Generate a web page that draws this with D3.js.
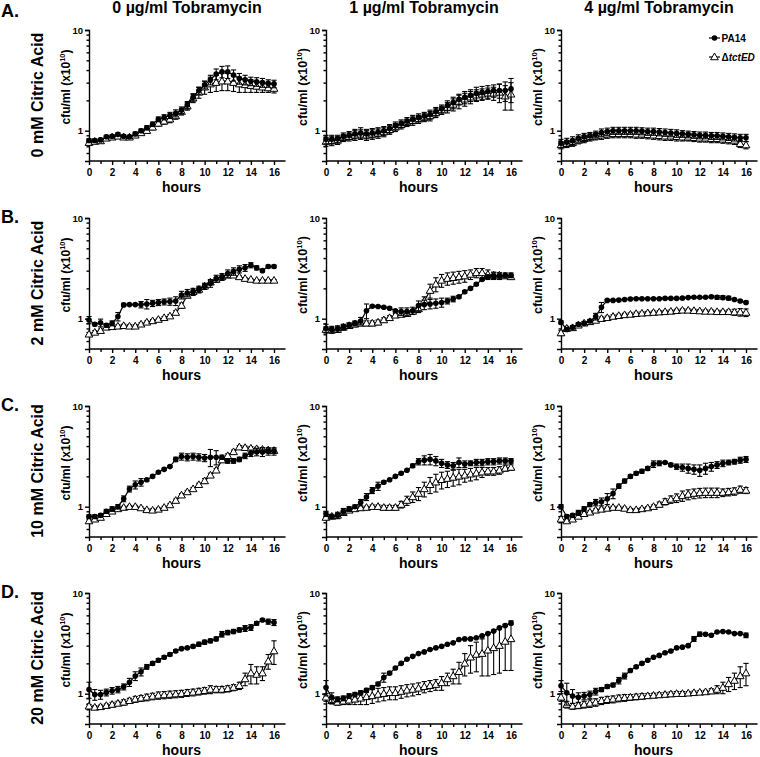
<!DOCTYPE html>
<html><head><meta charset="utf-8">
<script src="https://cdn.jsdelivr.net/npm/d3@7"></script>
<style>
body{margin:0;background:#fff}
svg{display:block}
text{font-family:"Liberation Sans",Arial,Helvetica,sans-serif;font-weight:bold;fill:#000}
</style>
</head><body>
<svg id="chart" width="760" height="757"></svg>
<script>
// ---------- categories / labels ----------
const hours = [0,0.5,1,1.5,2,2.5,3,3.5,4,4.5,5,5.5,6,6.5,7,7.5,8,8.5,9,9.5,10,10.5,11,11.5,12,12.5,13,13.5,14,14.5,15,15.5,16];
const tobramycinLabels = ["0 µg/ml Tobramycin","1 µg/ml Tobramycin","4 µg/ml Tobramycin"];
const citricLabels = ["0 mM Citric Acid","2 mM Citric Acid","10 mM Citric Acid","20 mM Citric Acid"];
const panelLetters = ["A.","B.","C.","D."];
const seriesNames = ["PA14","tctED"];
const xTickLabels = [0,2,4,6,8,10,12,14,16];
const xMinorTicks = [1,3,5,7,9,11,13,15];
const yTickLabels = [1,10];
const yMinorTicks = [0.6,0.7,0.8,0.9,2,3,4,5,6,7,8,9];

// ---------- row A : 0 mM citric acid ----------
const pa14_A1 = [0.80,0.80,0.81,0.87,0.88,0.92,0.88,0.87,0.93,1.00,1.07,1.16,1.30,1.36,1.42,1.49,1.60,1.80,2.15,2.50,2.85,3.20,3.65,3.85,3.85,3.56,3.30,3.20,3.10,3.06,3.00,2.95,2.92];
const pa14err_A1 = [0.03,0.03,0.03,0.03,0.03,0.03,0.03,0.03,0.04,0.04,0.05,0.06,0.07,0.08,0.10,0.12,0.12,0.15,0.18,0.20,0.25,0.35,0.45,0.50,0.55,0.45,0.40,0.35,0.30,0.30,0.30,0.25,0.25];
const tct_A1 = [0.76,0.78,0.79,0.84,0.86,0.88,0.86,0.86,0.90,0.95,1.00,1.08,1.18,1.24,1.30,1.40,1.55,1.75,2.10,2.40,2.70,2.90,3.00,3.10,3.10,3.00,2.90,2.85,2.80,2.75,2.70,2.65,2.62];
const tcterr_A1 = [0.03,0.03,0.03,0.03,0.03,0.03,0.03,0.03,0.04,0.04,0.05,0.06,0.07,0.08,0.10,0.10,0.12,0.15,0.20,0.30,0.40,0.50,0.55,0.60,0.60,0.55,0.50,0.45,0.40,0.35,0.30,0.25,0.25];

const pa14_A2 = [0.82,0.82,0.83,0.88,0.90,0.93,0.95,0.93,0.95,0.97,1.00,1.05,1.12,1.18,1.25,1.30,1.35,1.40,1.45,1.55,1.65,1.78,1.90,2.05,2.15,2.25,2.35,2.40,2.45,2.50,2.50,2.50,2.60];
const pa14err_A2 = [0.08,0.08,0.07,0.07,0.08,0.10,0.12,0.10,0.10,0.10,0.10,0.10,0.10,0.10,0.10,0.12,0.12,0.12,0.15,0.15,0.15,0.20,0.25,0.25,0.30,0.30,0.35,0.35,0.35,0.35,0.40,0.55,0.70];
const tct_A2 = [0.78,0.79,0.80,0.85,0.87,0.90,0.92,0.90,0.92,0.94,0.97,1.02,1.08,1.14,1.20,1.25,1.30,1.35,1.40,1.50,1.60,1.70,1.82,1.95,2.05,2.15,2.25,2.30,2.35,2.35,2.40,2.20,2.30];
const tcterr_A2 = [0.08,0.08,0.07,0.07,0.08,0.10,0.10,0.10,0.10,0.10,0.10,0.10,0.10,0.10,0.10,0.12,0.12,0.12,0.15,0.15,0.15,0.20,0.25,0.30,0.30,0.30,0.30,0.30,0.30,0.35,0.50,0.60,0.70];

const pa14_A3 = [0.75,0.77,0.80,0.84,0.87,0.89,0.92,0.96,0.98,1.00,1.00,1.00,1.00,1.00,0.99,0.98,0.98,0.97,0.96,0.95,0.94,0.93,0.92,0.91,0.90,0.90,0.89,0.89,0.88,0.87,0.86,0.85,0.85];
const pa14err_A3 = [0.07,0.07,0.07,0.07,0.07,0.07,0.07,0.08,0.08,0.08,0.08,0.08,0.08,0.08,0.08,0.08,0.08,0.08,0.08,0.08,0.08,0.07,0.07,0.07,0.07,0.07,0.07,0.07,0.07,0.07,0.07,0.07,0.07];
const tct_A3 = [0.72,0.74,0.76,0.80,0.83,0.86,0.88,0.90,0.92,0.93,0.93,0.93,0.93,0.92,0.92,0.91,0.90,0.89,0.88,0.88,0.87,0.86,0.86,0.85,0.84,0.84,0.83,0.83,0.82,0.81,0.80,0.74,0.72];
const tcterr_A3 = [0.06,0.06,0.06,0.06,0.07,0.07,0.07,0.08,0.08,0.08,0.08,0.08,0.08,0.08,0.08,0.08,0.08,0.08,0.08,0.08,0.08,0.07,0.07,0.07,0.07,0.07,0.07,0.07,0.07,0.07,0.07,0.06,0.06];

// ---------- row B : 2 mM citric acid ----------
const pa14_B1 = [0.97,0.88,0.91,0.86,0.90,1.05,1.37,1.38,1.38,1.38,1.40,1.42,1.45,1.47,1.48,1.50,1.72,1.80,1.85,1.95,2.10,2.25,2.50,2.60,2.80,2.95,3.10,3.20,3.40,3.20,3.00,3.30,3.30];
const pa14err_B1 = [0.08,0.03,0.08,0.03,0.05,0.10,0.05,0.03,0.03,0.10,0.15,0.10,0.10,0.10,0.12,0.15,0.15,0.15,0.15,0.15,0.15,0.20,0.20,0.20,0.25,0.25,0.25,0.25,0.20,0.15,0.10,0.10,0.10];
const tct_B1 = [0.70,0.73,0.76,0.82,0.83,0.84,0.85,0.84,0.84,0.88,0.92,0.95,0.98,1.02,1.06,1.15,1.35,1.70,1.85,1.95,2.10,2.30,2.45,2.60,2.70,2.70,2.60,2.50,2.45,2.40,2.40,2.40,2.40];
const tcterr_B1 = [0.03,0.03,0.03,0.03,0.03,0.03,0.03,0.03,0.03,0.03,0.03,0.03,0.03,0.03,0.04,0.05,0.08,0.08,0.08,0.10,0.10,0.10,0.10,0.10,0.10,0.08,0.06,0.05,0.05,0.05,0.05,0.05,0.05];

const pa14_B2 = [0.80,0.78,0.79,0.83,0.86,0.90,0.95,1.20,1.33,1.32,1.30,1.27,1.20,1.18,1.18,1.20,1.35,1.38,1.40,1.42,1.45,1.50,1.57,1.65,1.85,2.00,2.20,2.45,2.60,2.65,2.65,2.70,2.70];
const pa14err_B2 = [0.08,0.06,0.06,0.05,0.05,0.05,0.08,0.20,0.03,0.03,0.03,0.03,0.03,0.10,0.10,0.10,0.15,0.15,0.15,0.15,0.15,0.10,0.10,0.05,0.05,0.05,0.05,0.05,0.10,0.20,0.20,0.15,0.15];
const tct_B2 = [0.78,0.77,0.78,0.82,0.85,0.88,0.90,0.90,0.90,0.92,0.97,1.02,1.08,1.10,1.12,1.18,1.25,1.50,1.90,2.20,2.40,2.50,2.55,2.60,2.65,2.75,2.85,2.85,2.75,2.70,2.70,2.65,2.60];
const tcterr_B2 = [0.05,0.05,0.05,0.05,0.05,0.05,0.05,0.05,0.05,0.05,0.05,0.05,0.05,0.05,0.05,0.05,0.10,0.15,0.30,0.35,0.35,0.35,0.35,0.35,0.35,0.30,0.30,0.30,0.30,0.20,0.15,0.10,0.10];

const pa14_B3 = [0.92,0.78,0.82,0.88,0.90,0.95,1.05,1.30,1.52,1.52,1.53,1.55,1.57,1.58,1.58,1.58,1.58,1.58,1.59,1.59,1.59,1.60,1.62,1.63,1.63,1.63,1.65,1.63,1.62,1.60,1.55,1.50,1.45];
const pa14err_B3 = [0.03,0.03,0.03,0.03,0.03,0.03,0.08,0.15,0.03,0.03,0.03,0.03,0.03,0.03,0.03,0.03,0.03,0.03,0.03,0.03,0.03,0.03,0.03,0.03,0.03,0.03,0.04,0.07,0.07,0.07,0.04,0.04,0.04];
const tct_B3 = [0.72,0.80,0.81,0.86,0.90,0.93,0.96,1.00,1.02,1.05,1.07,1.09,1.10,1.12,1.13,1.14,1.15,1.16,1.17,1.18,1.20,1.21,1.21,1.20,1.19,1.18,1.18,1.17,1.17,1.17,1.16,1.16,1.15];
const tcterr_B3 = [0.04,0.04,0.04,0.04,0.04,0.04,0.04,0.04,0.04,0.04,0.04,0.04,0.04,0.04,0.04,0.04,0.04,0.04,0.04,0.04,0.04,0.04,0.04,0.04,0.04,0.04,0.04,0.04,0.04,0.05,0.08,0.10,0.10];

// ---------- row C : 10 mM citric acid ----------
const pa14_C1 = [0.80,0.80,0.82,0.90,0.95,1.00,1.20,1.50,1.65,1.75,1.85,2.00,2.20,2.35,2.50,2.95,3.15,3.10,3.15,3.10,3.05,3.10,3.10,3.10,2.85,2.85,2.95,3.20,3.40,3.50,3.50,3.55,3.55];
const pa14err_C1 = [0.03,0.03,0.03,0.04,0.05,0.05,0.08,0.10,0.15,0.15,0.05,0.05,0.05,0.05,0.05,0.15,0.25,0.25,0.25,0.25,0.25,0.60,0.50,0.15,0.15,0.15,0.15,0.20,0.25,0.30,0.35,0.30,0.30];
const tct_C1 = [0.72,0.75,0.78,0.85,0.90,0.95,0.98,1.00,1.00,0.97,0.93,0.92,0.94,0.98,1.04,1.15,1.30,1.40,1.50,1.65,1.80,2.05,2.30,2.90,3.20,3.50,3.90,3.85,3.80,3.75,3.70,3.65,3.60];
const tcterr_C1 = [0.03,0.03,0.03,0.03,0.03,0.03,0.03,0.03,0.03,0.03,0.03,0.03,0.03,0.03,0.03,0.04,0.05,0.05,0.05,0.06,0.10,0.10,0.10,0.12,0.15,0.15,0.15,0.15,0.15,0.15,0.15,0.15,0.15];

const pa14_C2 = [0.85,0.80,0.82,0.90,0.95,1.00,1.10,1.25,1.45,1.60,1.75,1.85,2.00,2.15,2.30,2.55,2.80,2.90,2.95,2.85,2.70,2.60,2.55,2.75,2.65,2.70,2.75,2.75,2.80,2.80,2.85,2.85,2.85];
const pa14err_C2 = [0.05,0.04,0.06,0.06,0.05,0.04,0.08,0.10,0.10,0.15,0.05,0.04,0.04,0.04,0.04,0.10,0.20,0.30,0.35,0.30,0.25,0.20,0.20,0.30,0.20,0.15,0.20,0.20,0.20,0.20,0.20,0.20,0.15];
const tct_C2 = [0.78,0.80,0.82,0.87,0.92,0.95,0.97,0.98,1.00,1.00,0.98,0.98,0.98,1.05,1.15,1.25,1.35,1.50,1.65,1.75,1.85,1.90,1.95,2.00,2.05,2.10,2.15,2.20,2.25,2.25,2.30,2.40,2.45];
const tcterr_C2 = [0.03,0.03,0.03,0.03,0.03,0.03,0.03,0.03,0.04,0.04,0.05,0.05,0.05,0.08,0.12,0.15,0.20,0.25,0.30,0.35,0.35,0.35,0.35,0.35,0.30,0.30,0.30,0.25,0.20,0.20,0.20,0.15,0.15];

const pa14_C3 = [1.00,0.80,0.82,0.87,0.95,1.05,1.10,1.12,1.20,1.35,1.60,1.80,2.00,2.15,2.25,2.40,2.65,2.70,2.75,2.60,2.50,2.45,2.40,2.35,2.30,2.40,2.50,2.60,2.70,2.75,2.80,2.90,2.95];
const pa14err_C3 = [0.05,0.03,0.03,0.05,0.05,0.05,0.08,0.10,0.15,0.15,0.08,0.08,0.08,0.08,0.10,0.10,0.20,0.15,0.05,0.10,0.15,0.20,0.25,0.25,0.30,0.30,0.25,0.20,0.20,0.15,0.15,0.20,0.20];
const tct_C3 = [0.75,0.72,0.75,0.80,0.85,0.88,0.92,0.94,0.96,0.98,0.98,0.96,0.93,0.93,0.95,0.97,1.00,1.05,1.12,1.18,1.22,1.28,1.32,1.35,1.37,1.38,1.38,1.38,1.38,1.40,1.42,1.48,1.45];
const tcterr_C3 = [0.05,0.03,0.03,0.03,0.03,0.03,0.03,0.03,0.03,0.03,0.03,0.03,0.03,0.03,0.03,0.03,0.04,0.06,0.08,0.10,0.12,0.15,0.15,0.15,0.15,0.15,0.15,0.15,0.12,0.12,0.12,0.12,0.10];

// ---------- row D : 20 mM citric acid ----------
const pa14_D1 = [1.10,0.98,0.98,1.03,1.07,1.10,1.17,1.30,1.50,1.65,1.85,2.00,2.15,2.30,2.45,2.65,2.80,2.85,2.95,3.10,3.25,3.35,3.50,3.90,4.05,4.15,4.30,4.45,4.55,5.00,5.40,5.20,5.10];
const pa14err_D1 = [0.20,0.12,0.10,0.08,0.08,0.08,0.08,0.12,0.15,0.15,0.10,0.08,0.08,0.08,0.08,0.08,0.06,0.06,0.10,0.15,0.15,0.15,0.15,0.25,0.20,0.20,0.20,0.30,0.30,0.20,0.15,0.30,0.35];
const tct_D1 = [0.75,0.73,0.74,0.76,0.78,0.80,0.82,0.85,0.88,0.90,0.92,0.94,0.96,0.97,0.98,0.99,1.00,1.02,1.03,1.05,1.07,1.10,1.10,1.10,1.12,1.15,1.20,1.40,1.60,1.55,1.60,2.10,2.65];
const tcterr_D1 = [0.03,0.03,0.03,0.03,0.04,0.04,0.05,0.05,0.06,0.06,0.07,0.07,0.08,0.08,0.08,0.08,0.08,0.08,0.08,0.08,0.08,0.10,0.08,0.08,0.08,0.08,0.10,0.20,0.35,0.30,0.25,0.35,0.70];

const pa14_D2 = [1.15,0.92,0.88,0.90,0.95,0.98,1.02,1.08,1.15,1.25,1.45,1.60,1.80,2.00,2.20,2.35,2.50,2.60,2.75,2.85,2.95,3.10,3.20,3.45,3.50,3.50,3.60,3.75,3.95,4.20,4.50,4.75,5.00];
const pa14err_D2 = [0.20,0.10,0.05,0.05,0.05,0.05,0.05,0.05,0.05,0.05,0.15,0.05,0.03,0.03,0.03,0.03,0.03,0.03,0.03,0.03,0.03,0.03,0.03,0.03,0.03,0.03,0.03,0.03,0.03,0.03,0.05,0.10,0.15];
const tct_D2 = [0.92,0.85,0.82,0.84,0.86,0.88,0.90,0.93,0.95,0.98,1.00,1.02,1.02,1.05,1.08,1.10,1.13,1.17,1.20,1.23,1.28,1.40,1.50,1.65,2.00,2.30,2.45,2.50,2.70,2.85,3.00,3.30,3.50];
const tcterr_D2 = [0.08,0.06,0.05,0.06,0.08,0.10,0.12,0.15,0.15,0.15,0.15,0.15,0.15,0.15,0.15,0.15,0.15,0.15,0.15,0.15,0.20,0.20,0.25,0.40,0.50,0.70,0.80,1.00,1.20,1.30,1.40,1.60,1.80];

const pa14_D3 = [1.20,1.02,0.95,0.92,0.95,0.98,1.05,1.10,1.18,1.22,1.35,1.50,1.70,1.85,2.00,2.15,2.30,2.40,2.55,2.65,2.85,2.90,3.00,3.50,3.90,3.90,3.80,4.10,4.15,4.10,3.95,3.95,3.80];
const pa14err_D3 = [0.15,0.25,0.15,0.10,0.08,0.08,0.08,0.05,0.05,0.05,0.10,0.10,0.05,0.05,0.05,0.05,0.05,0.05,0.05,0.05,0.05,0.05,0.05,0.20,0.20,0.10,0.05,0.05,0.05,0.05,0.05,0.05,0.20];
const tct_D3 = [0.92,0.78,0.75,0.76,0.78,0.80,0.82,0.85,0.87,0.88,0.90,0.91,0.92,0.93,0.94,0.95,0.96,0.97,0.98,0.99,1.00,1.00,1.01,1.02,1.03,1.04,1.06,1.10,1.15,1.25,1.35,1.50,1.60];
const tcterr_D3 = [0.08,0.06,0.05,0.05,0.06,0.07,0.07,0.07,0.07,0.07,0.07,0.07,0.06,0.06,0.06,0.05,0.05,0.05,0.05,0.05,0.05,0.05,0.04,0.04,0.04,0.04,0.06,0.10,0.15,0.20,0.25,0.35,0.40];

// table built from the arrays above
const panelTable = [
  [[pa14_A1,pa14err_A1,tct_A1,tcterr_A1],[pa14_A2,pa14err_A2,tct_A2,tcterr_A2],[pa14_A3,pa14err_A3,tct_A3,tcterr_A3]],
  [[pa14_B1,pa14err_B1,tct_B1,tcterr_B1],[pa14_B2,pa14err_B2,tct_B2,tcterr_B2],[pa14_B3,pa14err_B3,tct_B3,tcterr_B3]],
  [[pa14_C1,pa14err_C1,tct_C1,tcterr_C1],[pa14_C2,pa14err_C2,tct_C2,tcterr_C2],[pa14_C3,pa14err_C3,tct_C3,tcterr_C3]],
  [[pa14_D1,pa14err_D1,tct_D1,tcterr_D1],[pa14_D2,pa14err_D2,tct_D2,tcterr_D2],[pa14_D3,pa14err_D3,tct_D3,tcterr_D3]]
];

// ---------- layout ----------
const colX = [89, 326, 561];
const rowY = [30, 218, 406, 593];
const plotW = 185, plotH = 131;
const yLabelSize = [12, 12.5, 12.5];

const svg = d3.select("#chart");

const x = d3.scaleLinear().domain([0, 16]).range([0, plotW]);
const xAxisEnd = 17;
const y = d3.scaleLog().domain([0.5, 10]).range([plotH, 0]);

const triangle = d3.symbol().type(d3.symbolTriangle).size(26);

function drawSeries(g, vals, errs, filled) {
  const pts = hours.map((h, i) => ({h, v: vals[i], e: errs[i]}));
  const line = d3.line().x(d => x(d.h)).y(d => y(d.v));
  g.append("path").datum(pts).attr("d", line)
    .attr("fill", "none").attr("stroke", "#000").attr("stroke-width", 1.2);
  const eb = g.append("g").attr("stroke", "#000").attr("stroke-width", 1.1);
  pts.forEach(d => {
    const y1 = y(Math.max(0.5, d.v - d.e)), y2 = y(d.v + d.e), xx = x(d.h);
    eb.append("line").attr("x1", xx).attr("x2", xx).attr("y1", y1).attr("y2", y2);
    eb.append("line").attr("x1", xx - 2.6).attr("x2", xx + 2.6).attr("y1", y1).attr("y2", y1);
    eb.append("line").attr("x1", xx - 2.6).attr("x2", xx + 2.6).attr("y1", y2).attr("y2", y2);
  });
  if (filled) {
    g.append("g").selectAll("circle").data(pts).join("circle")
      .attr("cx", d => x(d.h)).attr("cy", d => y(d.v)).attr("r", 2.8).attr("fill", "#000");
  } else {
    g.append("g").selectAll("path").data(pts).join("path")
      .attr("d", triangle).attr("transform", d => `translate(${x(d.h)},${y(d.v) + 0.5})`)
      .attr("fill", "#fff").attr("stroke", "#000").attr("stroke-width", 1);
  }
}

panelTable.forEach((row, r) => {
  row.forEach((p, c) => {
    const g = svg.append("g").attr("transform", `translate(${colX[c]},${rowY[r]})`);

    // y axis
    const ya = g.append("g");
    ya.call(d3.axisLeft(y).tickValues(yTickLabels).tickFormat(d3.format("d")).tickSize(4).tickPadding(2));
    ya.append("g").call(d3.axisLeft(y).tickValues(yMinorTicks).tickFormat("").tickSize(2.5))
      .select(".domain").remove();
    ya.selectAll("path,line").attr("stroke", "#000").attr("stroke-width", 1.4);
    ya.selectAll("text").attr("font-size", 9.5).attr("font-family", null);

    // x axis
    const xa = g.append("g").attr("transform", `translate(0,${plotH})`);
    xa.call(d3.axisBottom(x).tickValues(xTickLabels).tickSize(4).tickPadding(4));
    xa.select(".domain").attr("d", `M0,0H${x(xAxisEnd)}`);
    xa.append("g").call(d3.axisBottom(x).tickValues(xMinorTicks).tickFormat("").tickSize(3))
      .select(".domain").remove();
    xa.selectAll("path,line").attr("stroke", "#000").attr("stroke-width", 1.4);
    xa.selectAll("text").attr("font-size", 10).attr("font-family", null);

    // axis titles
    g.append("text").attr("x", plotW / 2).attr("y", plotH + 31)
      .attr("text-anchor", "middle").attr("font-size", 14).text("hours");
    const yl = g.append("text").attr("transform", `translate(-19,57) rotate(-90)`)
      .attr("text-anchor", "middle").attr("font-size", yLabelSize[c]);
    yl.append("tspan").text("cfu/ml (x10");
    yl.append("tspan").attr("font-size", yLabelSize[c] * 0.62).attr("dy", -5).text("10");
    yl.append("tspan").attr("dy", 5).text(")");

    // data
    drawSeries(g, p[2], p[3], false);
    drawSeries(g, p[0], p[1], true);
  });
});

// column titles
tobramycinLabels.forEach((t, c) => {
  svg.append("text").attr("x", colX[c] + 98).attr("y", 13).attr("text-anchor", "middle")
    .attr("font-size", 16).text(t);
});

// row labels
citricLabels.forEach((t, r) => {
  svg.append("text").attr("transform", `translate(43,${rowY[r] + 65}) rotate(-90)`)
    .attr("text-anchor", "middle").attr("font-size", 16).text(t);
  svg.append("text").attr("x", 1).attr("y", r === 0 ? 17 : rowY[r] + 5)
    .attr("font-size", 18).text(panelLetters[r]);
});

// legend
const lg = svg.append("g").attr("transform", "translate(709,38)");
lg.append("line").attr("x1", 0).attr("x2", 11).attr("y1", 0).attr("y2", 0).attr("stroke", "#000").attr("stroke-width", 1.2);
lg.append("circle").attr("cx", 5.5).attr("cy", 0).attr("r", 2.8).attr("fill", "#000");
lg.append("text").attr("x", 12.5).attr("y", 3.5).attr("font-size", 10).text(seriesNames[0]);
const lg2 = svg.append("g").attr("transform", "translate(709,57)");
lg2.append("line").attr("x1", 0).attr("x2", 11).attr("y1", 0).attr("y2", 0).attr("stroke", "#000").attr("stroke-width", 1.2);
lg2.append("path").attr("d", triangle).attr("transform", "translate(5.5,0.5)").attr("fill", "#fff").attr("stroke", "#000").attr("stroke-width", 1);
const t2 = lg2.append("text").attr("x", 12.5).attr("y", 3.5).attr("font-size", 10);
t2.append("tspan").text("Δ");
t2.append("tspan").attr("font-style", "italic").text(seriesNames[1]);
</script>
</body></html>
